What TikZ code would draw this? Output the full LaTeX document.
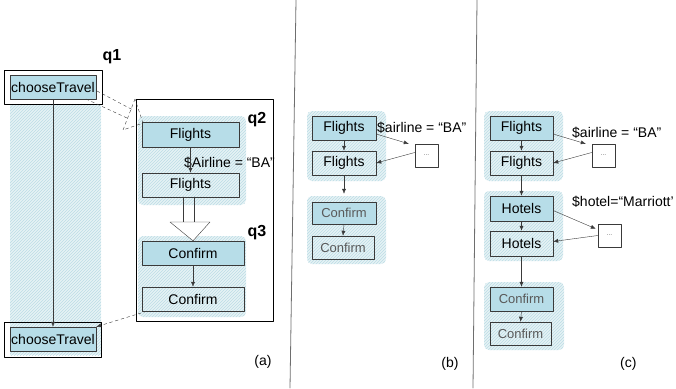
\documentclass[tikz,border=0pt]{standalone}
\usepackage{fontspec}
\setmainfont{Liberation Sans}
\usetikzlibrary{arrows.meta,patterns}
\definecolor{BoxBlue}{HTML}{B7DDE8}
\definecolor{BoxLine}{HTML}{3A3A3A}
\definecolor{HatchBg}{HTML}{E6F2F5}
\definecolor{HatchLine}{HTML}{BCDDE6}
\definecolor{SepGray}{HTML}{6E6E6E}

\begin{document}
\begin{tikzpicture}[x=1pt,y=-1pt,line cap=round,line join=round,
  lbl/.style={font=\fontsize{14}{16}\selectfont},
  tbox/.style={draw=BoxLine,fill=BoxBlue,inner sep=0pt,lbl},
  ebox/.style={draw=BoxLine,inner sep=0pt,lbl},
  gray text/.style={text=black!65,font=\fontsize{13}{15}\selectfont},
  dots/.style={draw=BoxLine,fill=white,inner sep=0pt,minimum width=23,minimum height=23,
    text=black!55,font=\fontsize{7}{8}\selectfont},
  hatch/.style={preaction={fill=HatchBg},pattern=north east lines,pattern color=HatchLine},
  qlbl/.style={font=\fontsize{16}{18}\selectfont\bfseries},
  arr/.style={-{Latex[length=5pt,width=4pt]},BoxLine}]
  \useasboundingbox (0,0) rectangle (676,388);
  % hatched backgrounds
  \fill[hatch] (10,99) rectangle (101,355);
  \fill[hatch,rounded corners=5pt] (138,116) rectangle (246,205);
  \fill[hatch,rounded corners=5pt] (138,236) rectangle (246,317);
  \fill[hatch,rounded corners=5pt] (307,111) rectangle (386,181);
  \fill[hatch,rounded corners=5pt] (307,196) rectangle (386,264);
  \fill[hatch,rounded corners=5pt] (484,111) rectangle (563,181);
  \fill[hatch,rounded corners=5pt] (484,191) rectangle (563,261);
  \fill[hatch,rounded corners=5pt] (484,282) rectangle (564,350);
  % panel separators
  \draw[SepGray,line width=.8pt] (296,0)--(290,388) (477,0)--(473,388);

  % (a)
  \node[draw=black,fill=white,minimum width=98,minimum height=34] (ctTopFrame) at (53,87) {};
  \node[tbox,minimum width=86,minimum height=24] (ctTop) at (53,87) {chooseTravel};
  \node[draw=black,minimum width=97,minimum height=35] (ctBotFrame) at (52.5,339.5) {};
  \node[tbox,minimum width=86,minimum height=24] (ctBot) at (53,339) {chooseTravel};
  \node[qlbl] (q1) at (112,57) {q1};
  \draw[black] (136,99) rectangle (273,321);
  \node[tbox,minimum width=97,minimum height=25] (fl1a) at (190.5,134.5) {Flights};
  \node[ebox,minimum width=97,minimum height=24] (fl2a) at (190.5,185) {Flights};
  \node[tbox,minimum width=102,minimum height=24] (cf1a) at (193,253) {Confirm};
  \node[ebox,minimum width=102,minimum height=24] (cf2a) at (193,299) {Confirm};
  \node[qlbl] (q2) at (257,120) {q2};
  \node[qlbl] (q3) at (257,233) {q3};
  \node[lbl,anchor=west,inner sep=0pt] (airA) at (184,163) {\$Airline = “BA”};
  \node[lbl,anchor=south east] (capA) at (275,372) {(a)};
  \draw[arr] (ctTop.south)--(ctBot.north);
  \draw[arr] (fl1a.south)--(fl2a.north);
  \draw[arr] (cf1a.south)--(cf2a.north);
  \draw[arr,dashed] ([xshift=5pt]cf2a.south west)--(ctBot.north east);
  % hollow arrow q1 -> q2
  \coordinate (hTip) at (135,99);\coordinate (hL) at (123,130);\coordinate (hR) at (143,123);
  \draw[BoxLine,dashed] (97,91)--(133,110) (86,99)--(127,118);
  \draw[BoxLine,dashed] (hTip)--(hL)--(hR)--cycle;
  % hollow arrow q2 -> q3
  \draw[BoxLine] (183,197)--(183,222) (194,197)--(194,222);
  \draw[BoxLine,fill=white] (170,222)--(210,222)--(cf1a.north)--cycle;

  % (b)
  \node[tbox,minimum width=64,minimum height=24] (fl1b) at (344,128) {Flights};
  \node[ebox,minimum width=64,minimum height=24] (fl2b) at (344,163) {Flights};
  \node[dots] (dotsb) at (426.5,155.5) {...};
  \node[tbox,gray text,minimum width=64,minimum height=22] (cf1b) at (344,213) {Confirm};
  \node[ebox,gray text,minimum width=62,minimum height=23] (cf2b) at (343,247.5) {Confirm};
  \node[lbl,anchor=west,inner sep=0pt] (airB) at (377,128) {\$airline = “BA”};
  \node[lbl,anchor=south east] (capB) at (462,374) {(b)};
  \draw[arr] (fl1b.south)--(fl2b.north);
  \draw[arr] (fl2b.south)--([yshift=8pt]cf1b.north);
  \draw[arr] (cf1b.south)--(cf2b.north);
  \draw[arr] ([yshift=-6pt]fl1b.east)--([xshift=-6pt]dotsb.north west);
  \draw[arr] ([yshift=3pt]dotsb.west)--(fl2b.east);

  % (c)
  \node[tbox,minimum width=63,minimum height=24] (fl1c) at (521.5,128) {Flights};
  \node[ebox,minimum width=63,minimum height=24] (fl2c) at (521.5,163) {Flights};
  \node[dots] (dots1c) at (603.5,155.5) {...};
  \node[tbox,minimum width=63,minimum height=25] (ho1c) at (521.5,208.5) {Hotels};
  \node[ebox,minimum width=63,minimum height=25] (ho2c) at (521.5,243.5) {Hotels};
  \node[dots] (dots2c) at (609.5,235.5) {...};
  \node[tbox,gray text,minimum width=63,minimum height=24] (cf1c) at (521.5,299) {Confirm};
  \node[ebox,gray text,minimum width=61,minimum height=23] (cf2c) at (520.5,333.5) {Confirm};
  \node[lbl,anchor=west,inner sep=0pt] (airC) at (572,133) {\$airline = “BA”};
  \node[lbl,anchor=west,inner sep=0pt] (hotC) at (572,202) {\$hotel=“Marriott’};
  \node[lbl,anchor=south east] (capC) at (640,374) {(c)};
  \draw[arr] (fl1c.south)--(fl2c.north);
  \draw[arr] (fl2c.south)--(ho1c.north);
  \draw[arr] (ho1c.south)--(ho2c.north);
  \draw[arr] (ho2c.south)--(cf1c.north);
  \draw[arr] (cf1c.south)--(cf2c.north);
  \draw[arr] ([yshift=-6pt]fl1c.east)--([xshift=-6pt]dots1c.north west);
  \draw[arr] ([yshift=3pt]dots1c.west)--(fl2c.east);
  \draw[arr] ([yshift=-2pt]ho1c.east)--([shift={(-2pt,-5pt)}]dots2c.north west);
  \draw[arr] (dots2c.west)--([yshift=2pt]ho2c.east);
\end{tikzpicture}
\end{document}
